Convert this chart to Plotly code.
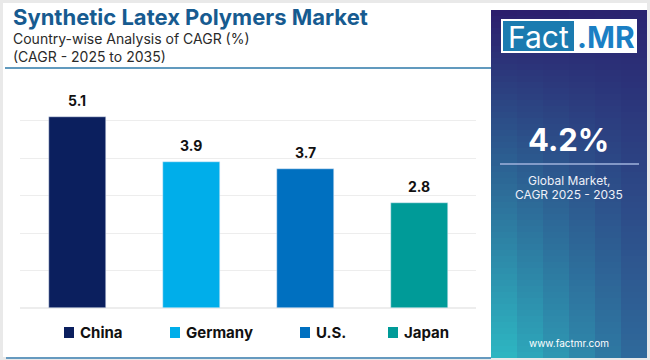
import plotly.graph_objects as go

countries = ["China", "Germany", "U.S.", "Japan"]
cagr = [5.1, 3.9, 3.7, 2.8]
colors = ["#0b1f5e", "#00aeea", "#0070c0", "#009b98"]
title = "Synthetic Latex Polymers Market"
subtitle1 = "Country-wise Analysis of CAGR (%)"
subtitle2 = "(CAGR - 2025 to 2035)"
global_value = "4.2%"
global_label1 = "Global Market,"
global_label2 = "CAGR 2025 - 2035"
website = "www.factmr.com"

W, H = 650, 360
L, R, T, B = 20, 174, 83, 52
PW, PH = W - L - R, H - T - B

def px(x):
    return (x - L) / PW

def py(y):
    return (H - B - y) / PH

FONT = "Inter, 'Noto Sans', sans-serif"

fig = go.Figure()
for c, v, col in zip(countries, cagr, colors):
    fig.add_trace(go.Bar(x=[c], y=[v], marker_color=col, width=0.5, name=c,
                         showlegend=False, hoverinfo="skip"))

shapes = []
ann = []

def text(t, x, y, size, color, xanchor="center", bold=False):
    ann.append(dict(text=("<b>%s</b>" % t) if bold else t, x=px(x), y=py(y), xref="paper", yref="paper",
                    xanchor=xanchor, yanchor="middle", showarrow=False,
                    font=dict(family=FONT, size=size, color=color)))

def rect(x0, y0, x1, y1, color, layer="above"):
    shapes.append(dict(type="rect", xref="paper", yref="paper", x0=px(x0), x1=px(x1), y0=py(y1), y1=py(y0),
                       fillcolor=color, line_width=0, layer=layer))

# backgrounds
rect(3, 3, 647, 357, "white", layer="below")
shapes.append(dict(type="line", xref="paper", yref="paper", x0=px(6), x1=px(491), y0=py(358), y1=py(358),
                   line=dict(color="#3a7fb0", width=1.5)))
shapes.append(dict(type="line", xref="paper", yref="paper", x0=px(5), x1=px(491), y0=py(68), y1=py(68),
                   line=dict(color="#2d78a8", width=1.5)))

# gradient panel
def hx(h):
    h = h.lstrip("#")
    return [int(h[i:i + 2], 16) for i in (0, 2, 4)]

TL, TR, BL, BR = hx("#2c1c6c"), hx("#2a2470"), hx("#2dbec6"), hx("#2f6297")
x0p, x1p, y0p, y1p = 491, 647, 10, 358
ncol, nrow = 6, 58
for i in range(ncol):
    for j in range(nrow):
        u = (i + 0.5) / ncol
        t = (j + 0.5) / nrow
        c = [round((1 - u) * (1 - t) * TL[k] + u * (1 - t) * TR[k] + (1 - u) * t * BL[k] + u * t * BR[k]) for k in range(3)]
        xa = x0p + (x1p - x0p) * i / ncol
        xb = x0p + (x1p - x0p) * (i + 1) / ncol
        ya = y0p + (y1p - y0p) * j / nrow
        yb = y0p + (y1p - y0p) * (j + 1) / nrow
        rect(xa, ya, min(xb + 0.5, x1p), min(yb + 0.5, y1p), "rgb(%d,%d,%d)" % tuple(c), layer="below")

# logo
rect(501, 19, 637, 53, "white")
rect(503, 21, 574, 51, "#1b7bb0")
text("Fact", 538, 37, 30, "white")
text(".MR", 606, 37, 30, "#1b7fc4", bold=True)

# panel text
text(global_value, 568, 139, 31, "white", bold=True)
shapes.append(dict(type="line", xref="paper", yref="paper", x0=px(500), x1=px(639), y0=py(164), y1=py(164),
                   line=dict(color="#9fb3dc", width=1.5)))
text(global_label1, 569, 180, 12, "#eef0f8")
text(global_label2, 569, 194, 12, "#eef0f8")
text(website, 569, 343, 10, "white")

# titles
text(title, 11, 17, 22, "#175b90", xanchor="left", bold=True)
text(subtitle1, 11, 38, 14, "#2a2a2a", xanchor="left")
text(subtitle2, 11, 57, 14, "#2a2a2a", xanchor="left")

# value labels
for c, v in zip(countries, cagr):
    ann.append(dict(text="<b>%.1f</b>" % v, x=c, y=v, xref="x", yref="y", yanchor="bottom", yshift=6,
                    showarrow=False, font=dict(family=FONT, size=14, color="#111111")))

# legend
legend_x = [64, 170, 300, 388]
for c, col, lx in zip(countries, colors, legend_x):
    rect(lx, 327, lx + 10, 338, col)
    text(c, lx + 14, 332, 15, "#111111", xanchor="left", bold=True)

fig.update_layout(
    width=W, height=H,
    margin=dict(l=L, r=R, t=T, b=B),
    paper_bgcolor="#e9e9e9", plot_bgcolor="white",
    barmode="overlay", bargap=0,
    shapes=shapes, annotations=ann,
    xaxis=dict(showticklabels=False, showgrid=False, zeroline=False, showline=False, ticks=""),
    yaxis=dict(range=[0, 6], dtick=1, showticklabels=False, gridcolor="#ededed", gridwidth=1,
               zeroline=True, zerolinecolor="#ededed", showline=False, ticks=""),
    showlegend=False,
)

fig.write_html("out.html", config={"displayModeBar": False},
               post_script="document.body.style.margin='0';document.body.style.overflow='hidden';")
